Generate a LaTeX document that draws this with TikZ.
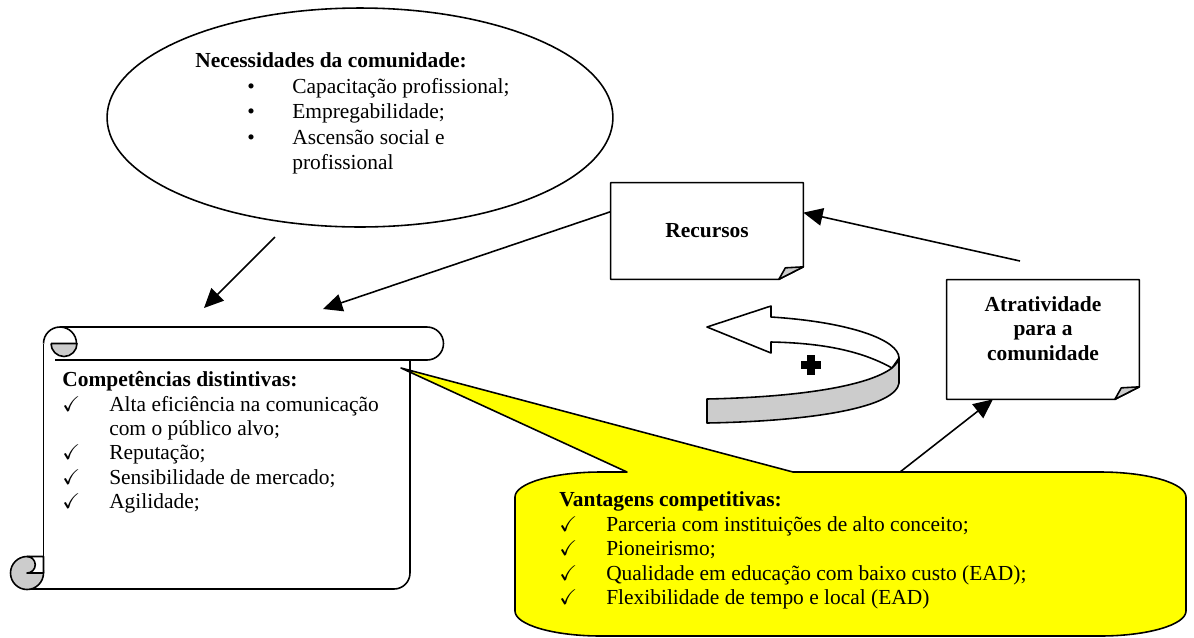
\documentclass[tikz,border=0pt]{standalone}
\usepackage{amssymb}
\usepackage{fontspec}
\setmainfont{Liberation Serif}
\usetikzlibrary{arrows.meta,shapes.geometric,calc}

\definecolor{ribbongrey}{RGB}{204,204,204}
\definecolor{calloutyellow}{RGB}{255,255,0}

\newcommand{\bul}{\hspace*{29.6pt}\makebox[25.6pt][l]{\textbullet}}
\newcommand{\chk}{\makebox[26.7pt][l]{$\checkmark$}}
\newcommand{\dogear}[1]{%
	\draw[outline] (#1.north west) -- (#1.north east) -- ([yshift=0.25cm]#1.south east)
		-- ([xshift=-0.49cm]#1.south east) -- (#1.south west) -- cycle;
	\draw[outline,fill=ribbongrey] ([xshift=-0.49cm]#1.south east)
		.. controls ([xshift=-0.42cm,yshift=0.13cm]#1.south east) .. ([xshift=-0.36cm,yshift=0.23cm]#1.south east)
		-- ([yshift=0.25cm]#1.south east) -- cycle;}

\begin{document}
\begin{tikzpicture}[x=0.02cm,y=-0.02cm]
	\tikzstyle{outline}=[draw=black,line width=0.9pt,line join=round]
	\tikzstyle{flow}=[-{Triangle[length=11pt,width=10pt]},line width=0.9pt]
	\tikzstyle{txt}=[inner sep=0pt,align=left,font=\fontsize{12.2pt}{13.9pt}\selectfont]
	\tikzstyle{lbl}=[inner sep=0pt,align=center,font=\fontsize{12.2pt}{13.9pt}\selectfont\bfseries]
	\tikzstyle{bubble}=[ellipse,draw,line width=0.9pt,minimum width=10.12cm,minimum height=4.38cm,inner sep=0pt]
	\tikzstyle{notebox}=[rectangle,minimum width=3.84cm,inner sep=0pt]
	\useasboundingbox (0,0) rectangle (1194,637);

	\node[bubble] (necess) at (360,117.5) {};
	\node[txt,anchor=west,font=\fontsize{12.2pt}{14.6pt}\selectfont] (necesstxt) at (195,113.5)
		{\textbf{Necessidades da comunidade:}\\
		\bul Capacitação profissional;\\
		\bul Empregabilidade;\\
		\bul Ascensão social e\\
		\hspace*{55.2pt}profissional};

	\draw[outline] (43.5,343.5) -- (43.5,573);
	\draw[outline] (60,327) -- (427,327) arc[start angle=270,end angle=450,radius=16.5] -- (55,360);
	\draw[outline] (410,360) -- (410,573) arc[start angle=0,end angle=90,radius=16] -- (27,589);
	\draw[outline] (43.5,343.5) arc[start angle=180,end angle=360,radius=16.5];
	\draw[outline,fill=ribbongrey] (51,343.5) -- (77,343.5) arc[start angle=0,end angle=180,radius=13];
	\draw[outline,fill=ribbongrey] (27,573) circle[radius=16.5];
	\draw[outline,fill=white] (27,556.5) -- (43.5,556.5) -- (43.5,573) -- (27,573) arc[start angle=90,end angle=-90,radius=8.25];
	\node[txt,anchor=west] (compet) at (62,442.5)
		{\textbf{Competências distintivas:}\\
		\chk Alta eficiência na comunicação\\
		\hspace*{26.7pt}com o público alvo;\\
		\chk Reputação;\\
		\chk Sensibilidade de mercado;\\
		\chk Agilidade;};

	\node[notebox,minimum height=1.92cm,lbl] (recursos) at (707,231) {Recursos};
	\dogear{recursos}
	\node[notebox,minimum height=2.38cm] (atrat) at (1043,339.5) {};
	\dogear{atrat}
	\node[lbl] (atrattxt) at (1043,328.5) {Atratividade\\para a\\comunidade};

	\draw[outline,fill=white] (707,327) -- (771,306) -- (771,317) .. controls (850,322) and (899,340) .. (899,358)
		-- (892,368) .. controls (860,350) and (820,343) .. (771,342) -- (771,353) -- cycle;
	\draw[outline,fill=ribbongrey] (707,399) .. controls (800,397) and (868,386) .. (892,368)
		.. controls (896,364) and (899,361) .. (899,358) -- (899,383)
		.. controls (896,406) and (820,421) .. (707,423) -- cycle;
	\draw[line width=4pt] (801,365) -- (821,365) (811,355) -- (811,375);

	\draw[outline,fill=calloutyellow] (627,472) -- (401,368) -- (793,472) -- (1100,472)
		arc[start angle=270,end angle=360,x radius=86,y radius=25] -- (1186,611)
		arc[start angle=0,end angle=90,x radius=86,y radius=25] -- (601,636)
		arc[start angle=90,end angle=180,x radius=86,y radius=25] -- (515,497)
		arc[start angle=180,end angle=270,x radius=86,y radius=25] -- cycle;
	\node[txt,anchor=west] (vantag) at (559,550.5)
		{\textbf{Vantagens competitivas:}\\
		\chk Parceria com instituições de alto conceito;\\
		\chk Pioneirismo;\\
		\chk Qualidade em educação com baixo custo (EAD);\\
		\chk Flexibilidade de tempo e local (EAD)};

	\coordinate (n1) at (275,237);
	\coordinate (n2) at (204,308);
	\coordinate (n3) at (323,309);
	\coordinate (n4) at (1020,261);
	\coordinate (n5) at (900,472);
	\draw[flow] (n1) -- (n2);
	\draw[flow] ($(recursos.north west)!0.3!(recursos.south west)$) -- (n3);
	\draw[flow] (n4) -- ($(recursos.north east)!0.31!(recursos.south east)$);
	\draw[flow] (n5) -- ($(atrat.south west)!0.24!(atrat.south east)$);
\end{tikzpicture}
\end{document}
